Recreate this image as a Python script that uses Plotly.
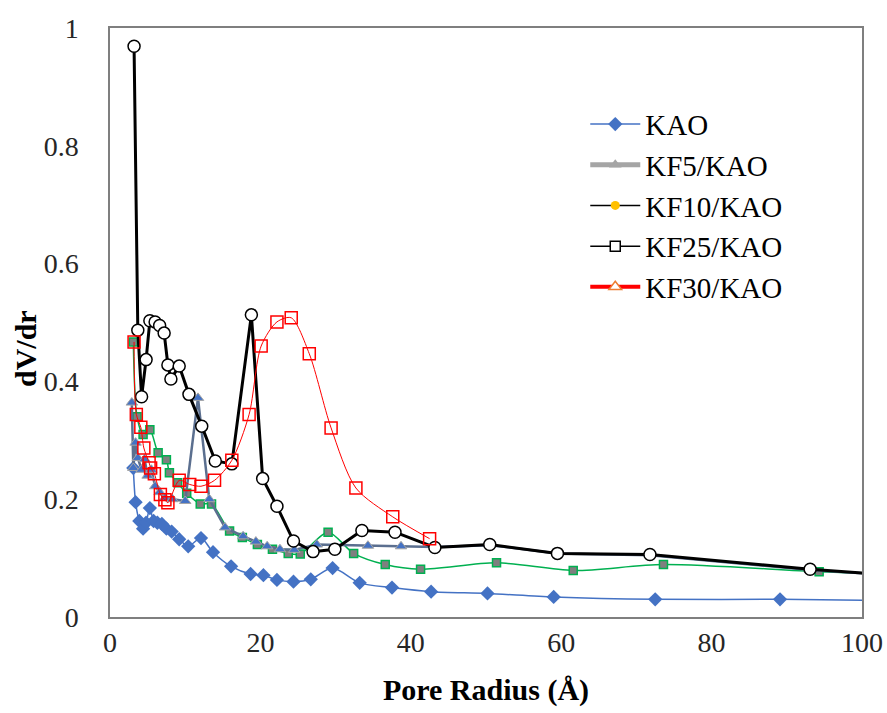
import plotly.graph_objects as go

# ---------------- data ----------------
kao_x = [3.1, 3.4, 3.9, 4.4, 4.8, 5.3, 5.8, 6.3, 6.9, 7.5, 8.2, 9.2, 10.4, 12.1, 13.7,
         16.1, 18.7, 20.4, 22.2, 24.4, 26.7, 29.6, 33.2, 37.5, 42.7, 50.2, 59.0, 72.5, 89.1, 110]
kao_y = [0.253, 0.195, 0.163, 0.150, 0.160, 0.185, 0.163, 0.160, 0.158, 0.150, 0.145, 0.132, 0.120, 0.134, 0.110,
         0.086, 0.073, 0.071, 0.063, 0.060, 0.064, 0.083, 0.058, 0.050, 0.043, 0.040, 0.034, 0.030, 0.030, 0.027]

kf5_x = [2.9, 3.1, 3.4, 3.7, 4.2, 4.6, 5.0, 5.5, 6.0, 6.6, 7.3, 8.3, 10.0, 11.7, 13.2,
         15.3, 17.7, 19.4, 20.9, 22.6, 24.5, 27.5, 34.3, 38.7, 43.2, 50.5, 59.5, 71.8, 93.1, 110]
kf5_y = [0.364, 0.253, 0.296, 0.270, 0.250, 0.268, 0.240, 0.250, 0.222, 0.212, 0.202, 0.200, 0.197, 0.372, 0.200,
         0.152, 0.137, 0.128, 0.120, 0.115, 0.114, 0.123, 0.121, 0.120, 0.119, 0.122, 0.108, 0.105, 0.080, 0.066]

kf10_x = [3.1, 3.6, 4.4, 5.3, 6.4, 7.5, 7.9, 9.0, 10.2, 12.0, 13.5, 15.9, 17.6, 19.6, 21.6,
          23.7, 25.3, 29.0, 32.4, 36.6, 41.3, 51.4, 61.6, 73.6, 94.3, 110]
kf10_y = [0.467, 0.340, 0.310, 0.318, 0.279, 0.267, 0.245, 0.228, 0.210, 0.192, 0.192, 0.146, 0.135, 0.123, 0.115,
          0.108, 0.107, 0.144, 0.108, 0.089, 0.081, 0.092, 0.079, 0.089, 0.077, 0.070]

kf25_x = [3.2, 3.7, 4.2, 4.8, 5.3, 6.0, 6.6, 7.2, 7.7, 8.1, 9.2, 10.5, 12.2, 14.0, 16.2,
          18.8, 20.3, 22.2, 24.4, 27.0, 29.9, 33.5, 37.9, 43.2, 50.5, 59.5, 71.8, 93.1, 110]
kf25_y = [0.969, 0.487, 0.374, 0.437, 0.503, 0.501, 0.495, 0.482, 0.428, 0.404, 0.426, 0.378, 0.324, 0.265, 0.260,
          0.513, 0.235, 0.188, 0.129, 0.111, 0.115, 0.147, 0.144, 0.118, 0.123, 0.108, 0.106, 0.081, 0.066]

kf30_x = [3.2, 3.5, 4.1, 4.5, 5.2, 5.4, 5.9, 6.7, 7.3, 7.7, 9.2, 10.6, 12.1, 13.9, 16.2,
          18.5, 20.1, 22.2, 24.1, 26.5, 29.4, 32.7, 37.6, 42.5]
kf30_y = [0.467, 0.344, 0.322, 0.287, 0.262, 0.253, 0.243, 0.208, 0.199, 0.194, 0.232, 0.225, 0.222, 0.232, 0.266,
          0.344, 0.460, 0.501, 0.508, 0.447, 0.321, 0.219, 0.170, 0.133]

series_names = ["KAO", "KF5/KAO", "KF10/KAO", "KF25/KAO", "KF30/KAO"]
x_ticks = [0, 20, 40, 60, 80, 100]
y_ticks = [0, 0.2, 0.4, 0.6, 0.8, 1]
y_tick_text = ["0", "0.2", "0.4", "0.6", "0.8", "1"]

# ---------------- figure ----------------
fig = go.Figure()

fig.add_trace(go.Scatter(x=kao_x, y=kao_y, mode="lines+markers", showlegend=False,
                         line=dict(color="#4472C4", width=1.5, shape="spline", smoothing=0.8),
                         marker=dict(symbol="diamond", size=11, color="#4472C4")))
fig.add_trace(go.Scatter(x=kf10_x, y=kf10_y, mode="lines+markers", showlegend=False,
                         line=dict(color="#00B050", width=1.5, shape="spline", smoothing=0.8),
                         marker=dict(symbol="square", size=8, color="#7F7F7F",
                                     line=dict(color="#00B050", width=1.5))))
fig.add_trace(go.Scatter(x=kf5_x, y=kf5_y, mode="lines+markers", showlegend=False,
                         line=dict(color="#5B6F8F", width=2.5),
                         marker=dict(symbol="triangle-up", size=10, color="#4472C4",
                                     line=dict(color="#A5A5A5", width=1))))
fig.add_trace(go.Scatter(x=kf25_x, y=kf25_y, mode="lines+markers", showlegend=False,
                         line=dict(color="#000000", width=3),
                         marker=dict(symbol="circle", size=12, color="#FFFFFF",
                                     line=dict(color="#000000", width=1.5))))
fig.add_trace(go.Scatter(x=kf30_x, y=kf30_y, mode="lines+markers", showlegend=False,
                         line=dict(color="#FF0000", width=1, shape="spline", smoothing=0.8),
                         marker=dict(symbol="square-open", size=12, color="#FF0000",
                                     line=dict(width=1.5))))

# legend entries (styles as shown in the reference legend)
legend_styles = [
    dict(line=dict(color="#4472C4", width=1.5), marker=dict(symbol="diamond", size=11, color="#4472C4")),
    dict(line=dict(color="#A5A5A5", width=5), marker=dict(symbol="triangle-up", size=11, color="#A5A5A5")),
    dict(line=dict(color="#000000", width=1.5), marker=dict(symbol="circle", size=9, color="#FFC000")),
    dict(line=dict(color="#000000", width=1.5), marker=dict(symbol="square", size=10, color="#FFFFFF",
                                                             line=dict(color="#000000", width=1.5))),
    dict(line=dict(color="#FF0000", width=4), marker=dict(symbol="triangle-up", size=11, color="#FFFFFF",
                                                           line=dict(color="#ED7D31", width=1.5))),
]
for name, st in zip(series_names, legend_styles):
    fig.add_trace(go.Scatter(x=[None], y=[None], mode="lines+markers", name=name, **st))

serif = "Liberation Serif, Times New Roman, serif"
axis_font = dict(family=serif, size=28, color="#262626")
title_font = dict(family=serif, size=30, color="#000000")

fig.update_layout(
    width=887, height=713,
    margin=dict(l=110, r=25, t=28, b=96, autoexpand=False),
    paper_bgcolor="white", plot_bgcolor="white",
    showlegend=True,
    legend=dict(x=0.632, y=0.88, xanchor="left", yanchor="top",
                font=dict(family=serif, size=29, color="#000000"),
                bgcolor="rgba(0,0,0,0)", itemwidth=50, tracegroupgap=0),
    xaxis=dict(range=[0, 100], tickvals=x_ticks, ticks="", showgrid=False, zeroline=False,
               showline=True, mirror=True, linecolor="#7F7F7F", linewidth=1.5,
               tickfont=axis_font, automargin=False,
               title=dict(text="<b>Pore Radius (Å)</b>", font=title_font, standoff=22)),
    yaxis=dict(range=[0, 1], tickvals=y_ticks, ticktext=y_tick_text, ticks="", showgrid=False,
               zeroline=False, showline=True, mirror=True, linecolor="#7F7F7F", linewidth=1.5,
               tickfont=axis_font, ticklabelstandoff=24, automargin=False),
    annotations=[dict(text="<b>dV/dr</b>", xref="paper", yref="paper", x=-0.113, y=0.455,
                      xanchor="center", yanchor="middle", textangle=-90, showarrow=False,
                      font=title_font)],
)

fig.write_html("out.html")
